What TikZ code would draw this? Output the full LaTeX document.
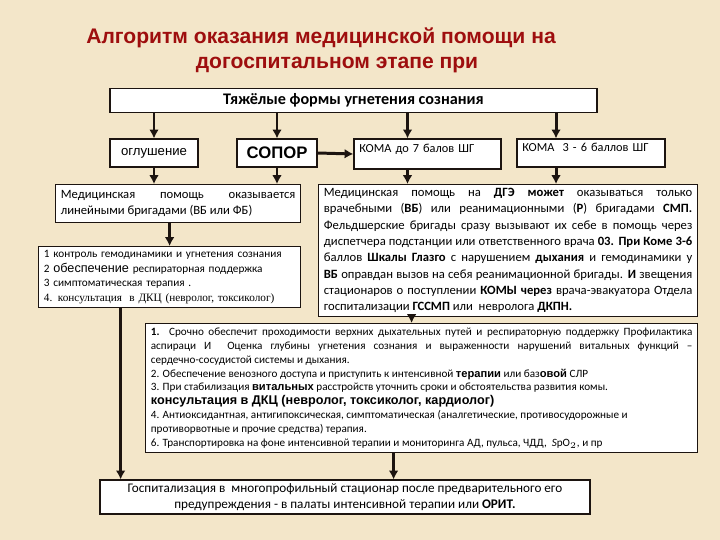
\documentclass[tikz,border=0pt]{standalone}
\usepackage{fontspec}
\setmainfont{Carlito}
\newfontfamily\arialfont{Liberation Sans}
\newfontfamily\timesfont{Liberation Serif}
\usetikzlibrary{arrows.meta}
\definecolor{fon}{RGB}{243,230,201}
\definecolor{zagolovok}{RGB}{158,14,14}
\definecolor{liniya}{RGB}{28,20,16}

\begin{document}
\begin{tikzpicture}[x=0.02cm, y=-0.02cm, >={Latex[length=5pt,width=5.5pt]},
	blok/.style={draw=liniya, fill=white, line width=0.7pt, inner xsep=3pt, inner ysep=2pt},
	strelka/.style={->, draw=liniya, line width=1.7pt},
	titul/.style={font=\arialfont\bfseries\fontsize{12}{15}\selectfont, text=zagolovok},
	tekst/.style={font=\fontsize{7.2}{9.3}\selectfont, align=justify},
	melko/.style={font=\fontsize{6.4}{8.3}\selectfont, align=left}]

	% fon
	\fill[fon] (0,0) rectangle (720,540);
	\useasboundingbox (0,0) rectangle (720,540);

	% zagolovok
	\node[titul] (titul1) at (321,38) {Алгоритм оказания медицинской помощи на};
	\node[titul] (titul2) at (337,65) {догоспитальном этапе при};

	% verhnij ryad
	\node[blok, minimum width=9.74cm, minimum height=0.48cm, font=\bfseries\fontsize{9.2}{10}\selectfont] (verh) at (353.5,100.5) {Тяжёлые формы угнетения сознания};
	\node[blok, minimum width=1.76cm, minimum height=0.56cm, font=\arialfont\fontsize{7.5}{9}\selectfont] (ogl) at (154,153) {оглушение};
	\node[blok, minimum width=1.6cm, minimum height=0.56cm, font=\arialfont\bfseries\fontsize{9.5}{11}\selectfont] (sopor) at (277,153) {СОПОР};
	\node[blok, minimum width=2.94cm, minimum height=0.6cm, text width=2.73cm, text depth=7pt, font=\fontsize{7}{8}\selectfont] (koma7) at (427.5,154) {КОМА до 7 балов ШГ};
	\node[blok, minimum width=2.96cm, minimum height=0.56cm, text width=2.75cm, text depth=6pt, font=\fontsize{7}{8}\selectfont] (koma36) at (591,153) {КОМА~ 3 - 6 баллов ШГ};

	% bloki
	\node[blok, tekst, anchor=north west, text width=4.69cm, minimum height=0.76cm] (lin) at (55,184)
		{Медицинская помощь оказывается линейными бригадами (ВБ или ФБ)};
	\node[blok, tekst, anchor=north west, text width=7.37cm, minimum height=2.36cm] (vrach) at (318,184)
		{Медицинская помощь на \textbf{ДГЭ} \textbf{может} оказываться только врачебными (\textbf{ВБ}) или реанимационными (\textbf{Р}) бригадами \textbf{СМП.} Фельдшерские бригады сразу вызывают их себе в помощь через диспетчера подстанции или ответственного врача \textbf{03. При Коме 3-6} баллов \textbf{Шкалы Глазго} с нарушением \textbf{дыхания} и гемодинамики у \textbf{ВБ} оправдан вызов на себя реанимационной бригады. \textbf{И} звещения стационаров о поступлении \textbf{КОМЫ через} врача-эвакуатора Отдела госпитализации \textbf{ГССМП} или~ невролога \textbf{ДКПН.}};
	\node[blok, melko, anchor=north west, text width=5.03cm, minimum height=1.22cm] (kontrol) at (38,246)
		{1 контроль гемодинамики и угнетения сознания\\
		2 {\arialfont\fontsize{7.2}{8.3}\selectfont обеспечение} респираторная поддержка\\
		3 симптоматическая терапия .\\
		{\timesfont 4. консультация~ в ДКЦ (невролог, токсиколог)}};
	\node[blok, anchor=north west, text width=10.83cm, minimum height=2.58cm, font=\fontsize{6.35}{7.9}\selectfont, align=justify] (srochno) at (145,323)
		{\textbf{1.} Срочно обеспечит проходимости верхних дыхательных путей и респираторную поддержку Профилактика аспираци И~ Оценка глубины угнетения сознания и выраженности нарушений витальных функций –\linebreak сердечно-сосудистой системы и дыхания.\\
		2. Обеспечение венозного доступа и приступить к интенсивной {\arialfont\bfseries терапии} или баз{\arialfont\bfseries овой} СЛР\\
		3. При стабилизация {\arialfont\bfseries витальных} расстройств уточнить сроки и обстоятельства развития комы.\\
		{\arialfont\bfseries\fontsize{7.2}{8.6}\selectfont консультация в ДКЦ (невролог, токсиколог, кардиолог)}\\
		4. Антиоксидантная, антигипоксическая, симптоматическая (аналгетические, противосудорожные и\\
		противорвотные и прочие средства) терапия.\\
		6. Транспортировка на фоне интенсивной терапии и мониторинга АД, пульса, ЧДД,~ \textit{S}pO$_2$, и пр};
	\node[blok, minimum width=9.8cm, minimum height=0.68cm, align=center, font=\fontsize{7.5}{8.8}\selectfont] (gosp) at (345,497)
		{Госпитализация в~ многопрофильный стационар после предварительного его\\предупреждения - в палаты интенсивной терапии или \textbf{ОРИТ.}};

	% strelki
	\draw[strelka] (verh.south -| ogl.north) -- (ogl.north);
	\draw[strelka] (verh.south -| sopor.north) -- (sopor.north);
	\draw[strelka] ([xshift=-0.4cm]verh.south -| koma7.north) -- ([xshift=-0.4cm]koma7.north);
	\draw[strelka] ([xshift=-0.7cm]verh.south -| koma36.north) -- ([xshift=-0.7cm]koma36.north);
	\draw[strelka] (sopor.east) -- (koma7.west);
	\draw[strelka] (ogl.south) -- (ogl.south |- lin.north);
	\draw[strelka] (sopor.south) -- (sopor.south |- lin.north);
	\draw[strelka] ([xshift=-0.4cm]koma7.south) -- ([xshift=-0.4cm]koma7.south |- vrach.north);
	\draw[strelka] ([xshift=-0.7cm]koma36.south) -- ([xshift=-0.7cm]koma36.south |- vrach.north);
	\draw[strelka] (lin.south -| kontrol.north) -- (kontrol.north);
	\draw[strelka] ([xshift=-0.98cm]kontrol.south) -- ([xshift=-0.98cm]kontrol.south |- gosp.north);
	\draw[strelka] ([xshift=-0.2cm]vrach.south -| srochno.north) -- ([xshift=-0.2cm]srochno.north);
	\draw[strelka] ([xshift=-0.56cm]srochno.south) -- ([xshift=-0.56cm]srochno.south |- gosp.north);
\end{tikzpicture}
\end{document}
